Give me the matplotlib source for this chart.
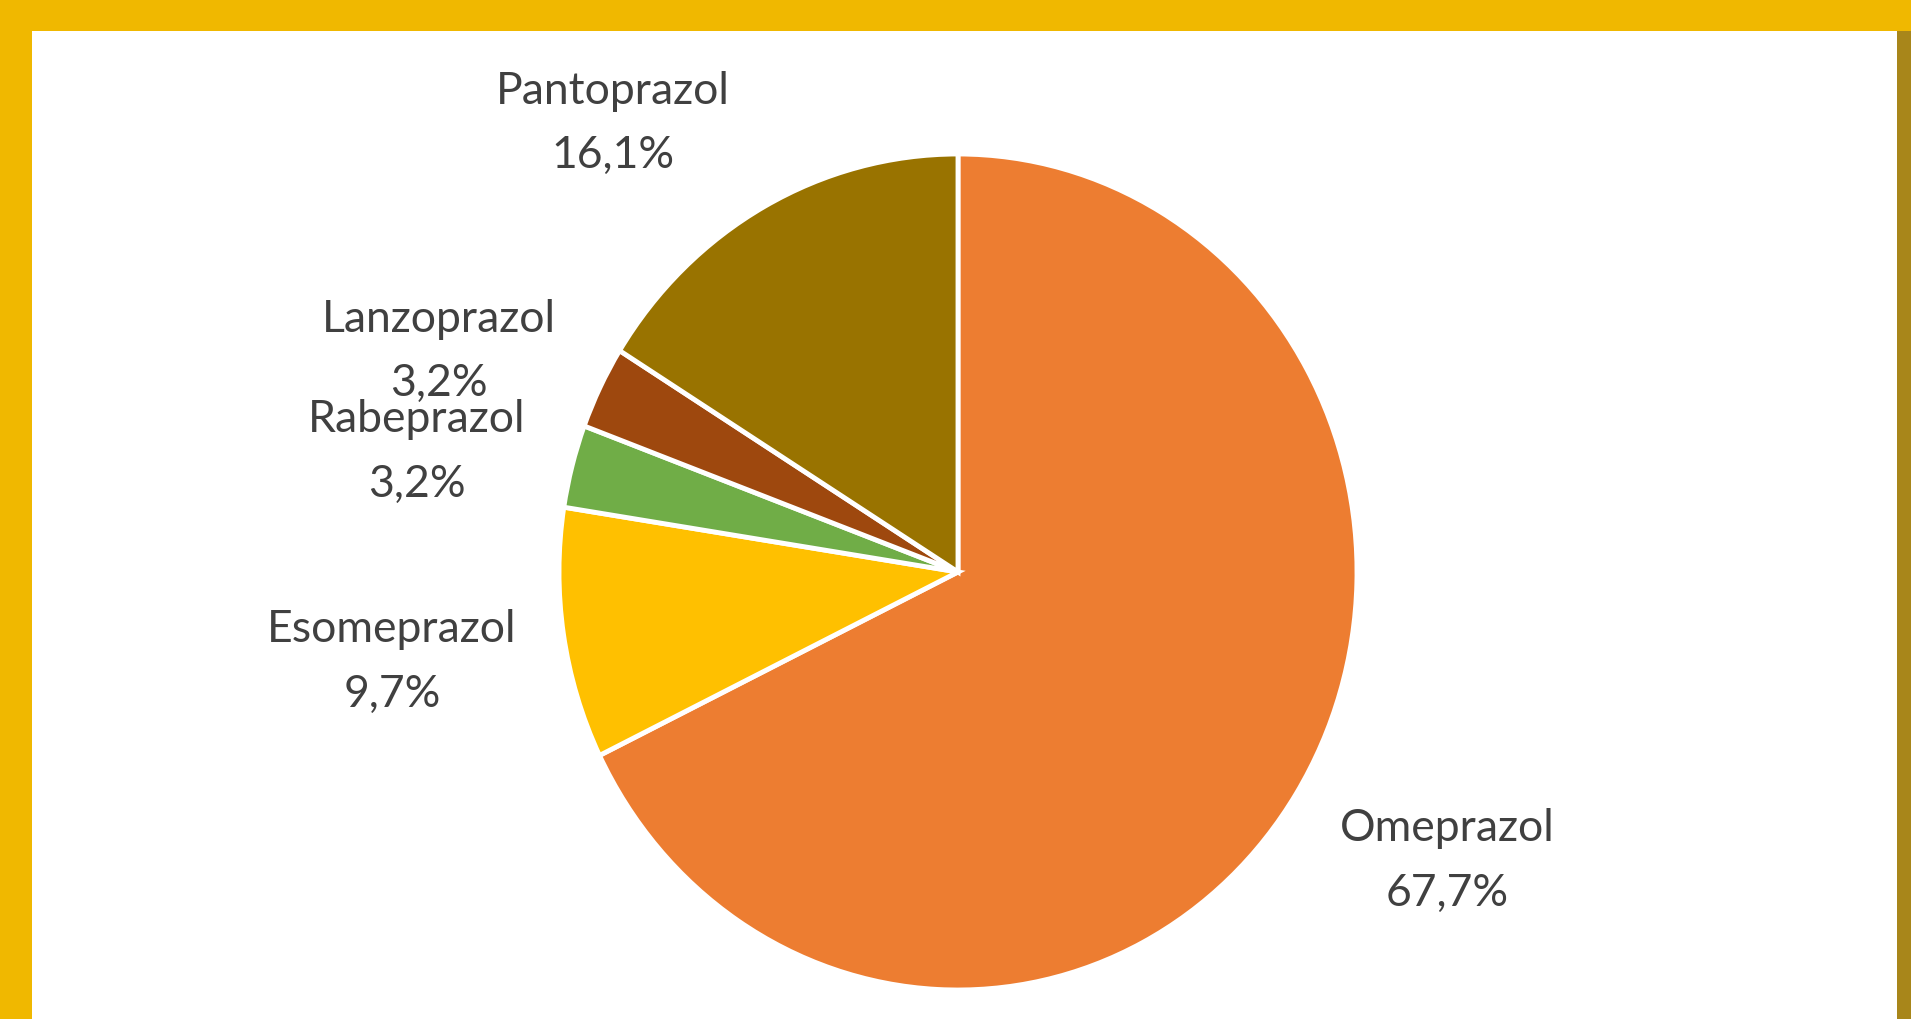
import matplotlib
matplotlib.use("Agg")
import matplotlib.pyplot as plt
from matplotlib.patches import Rectangle

# Data
drugs = ["Omeprazol", "Esomeprazol", "Rabeprazol", "Lanzoprazol", "Pantoprazol"]
shares = [67.7, 9.7, 3.2, 3.2, 16.1]
pct_labels = ["67,7%", "9,7%", "3,2%", "3,2%", "16,1%"]
colors = ["#ED7D31", "#FFC000", "#70AD47", "#9E480E", "#997300"]

# label anchor points (pixels from top-left), name line then percent line
label_xy = [(1447, 829), (392, 630), (417, 420), (439, 319), (613, 91)]

W, H = 1911, 1020
# the source pie is slightly squeezed horizontally
sx = 418 / 399

fig = plt.figure(figsize=(W / 100, H / 100), dpi=100)
fig.patch.set_facecolor("#F0B800")

# frame: white panel with gold border, darker gold on right
fig.patches.append(Rectangle((32 / W, 0), (1897 - 32) / W, (H - 32) / H,
                             transform=fig.transFigure, facecolor="white",
                             edgecolor="none", zorder=-5))
fig.patches.append(Rectangle((1897 / W, 0), (W - 1897) / W, (H - 32) / H,
                             transform=fig.transFigure, facecolor="#A8861A",
                             edgecolor="none", zorder=-5))

ax = fig.add_axes([0, 0, 1, 1])
ax.set_zorder(2)
ax.patch.set_alpha(0)

ax.pie(shares, colors=colors, startangle=90, counterclock=False,
       center=(958 * sx, H - 573), radius=418, frame=True,
       wedgeprops=dict(edgecolor="white", linewidth=3.5))
ax.set_aspect("auto")
ax.set_xlim(0, W * sx)
ax.set_ylim(0, H)
ax.axis("off")

for name, pct, (x, y) in zip(drugs, pct_labels, label_xy):
    ax.text(x * sx, H - y, name, ha="center", va="center", fontsize=32,
            color="#404040", family="Lato")
    ax.text(x * sx, H - y - 64, pct, ha="center", va="center", fontsize=32,
            color="#404040", family="Lato")

fig.savefig("out.png", dpi=100)
